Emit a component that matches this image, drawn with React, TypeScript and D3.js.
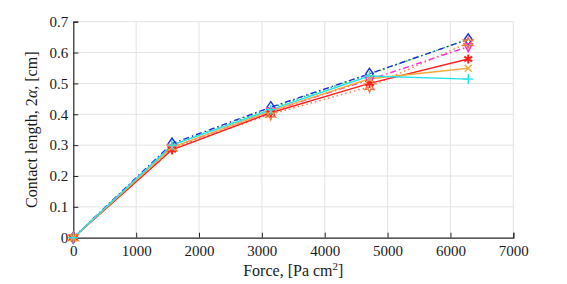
import React, { useRef, useEffect } from 'react';
import * as d3 from 'd3';

// force values (Pa cm^2), 500*pi steps
const forces = [0, 1570.8, 3141.6, 4712.4, 6283.2];

const greenDotted = [0, 0.3, 0.42, 0.53, 0.643];
const blueDiamond = [0, 0.305, 0.423, 0.531, 0.643];
const magentaTri = [0, 0.292, 0.41, 0.512, 0.619];
const orangeHex = [0, 0.29, 0.4, 0.489, 0.632];
const redStar = [0, 0.285, 0.405, 0.5, 0.579];
const yellowX = [0, 0.293, 0.41, 0.515, 0.549];
const cyanPlus = [0, 0.3, 0.415, 0.524, 0.514];

const xTicks = [0, 1000, 2000, 3000, 4000, 5000, 6000, 7000];
const yTicks = [0, 0.1, 0.2, 0.3, 0.4, 0.5, 0.6, 0.7];

const series = [
  { values: greenDotted, color: '#22c33a', dash: '1.5,2.5', marker: 'none' },
  { values: blueDiamond, color: '#1f2fe0', dash: '6,3,1.5,3', marker: 'diamond' },
  { values: magentaTri, color: '#ff2bd6', dash: '6,3,1.5,3', marker: 'triangleDown' },
  { values: orangeHex, color: '#f07a45', dash: '1.5,3', marker: 'hexagram' },
  { values: redStar, color: '#ff1f1f', dash: null, marker: 'asterisk' },
  { values: yellowX, color: '#f5a93a', dash: null, marker: 'x' },
  { values: cyanPlus, color: '#22e3ea', dash: null, marker: 'plus' },
];

const App = () => {
  const ref = useRef<SVGSVGElement>(null);

  useEffect(() => {
    const width = 567;
    const height = 284;
    const svg = d3.select(ref.current);
    svg.selectAll('*').remove();
    svg.attr('width', width).attr('height', height);

    const x = d3.scaleLinear().domain([0, 7000]).range([73.3, 513.3]);
    const y = d3.scaleLinear().domain([0, 0.7]).range([237.7, 21.7]);
    const font = '"Liberation Serif", "Times New Roman", serif';

    svg.append('rect').attr('width', width).attr('height', height).attr('fill', '#fff');

    // grid
    const grid = svg.append('g').attr('stroke', '#e3e3e3').attr('stroke-width', 1);
    grid.selectAll('line.v')
      .data(xTicks.slice(1))
      .join('line')
      .attr('x1', d => x(d)).attr('x2', d => x(d))
      .attr('y1', y(0)).attr('y2', y(0.7));
    grid.selectAll('line.h')
      .data(yTicks.slice(1))
      .join('line')
      .attr('class', 'h')
      .attr('x1', x(0)).attr('x2', x(7000))
      .attr('y1', d => y(d)).attr('y2', d => y(d));

    // axes
    const xAxis = d3.axisBottom(x).tickValues(xTicks).tickSize(-5).tickPadding(8)
      .tickFormat(d3.format('d'));
    const yAxis = d3.axisLeft(y).tickValues(yTicks).tickSize(-5).tickPadding(5)
      .tickFormat(d => (d === 0 ? '0' : d3.format('.1f')(d as number)));

    const gx = svg.append('g').attr('transform', `translate(0,${y(0)})`).call(xAxis);
    const gy = svg.append('g').attr('transform', `translate(${x(0)},0)`).call(yAxis);
    [gx, gy].forEach(g => {
      g.select('.domain').attr('stroke', '#262626').attr('stroke-width', 1.2);
      g.selectAll('.tick line').attr('stroke', '#262626');
      g.selectAll('.tick text')
        .attr('fill', '#1a1a1a')
        .attr('font-family', font)
        .attr('font-size', 15);
    });

    // lines
    const lineGen = d3.line<number>()
      .x((d, i) => x(forces[i]))
      .y(d => y(d));

    const markerPath = (type: string) => {
      switch (type) {
        case 'diamond':
          return 'M0,-5.5L3.8,0L0,5.5L-3.8,0Z';
        case 'triangleDown':
          return 'M-4.2,-3L4.2,-3L0,5Z';
        case 'hexagram': {
          const pts = d3.range(12).map(i => {
            const r = i % 2 === 0 ? 5.5 : 2.6;
            const a = (i * Math.PI) / 6 - Math.PI / 2;
            return [r * Math.cos(a), r * Math.sin(a)];
          });
          return 'M' + pts.map(p => p.join(',')).join('L') + 'Z';
        }
        case 'asterisk':
          return 'M0,-4.5V4.5M-4,-2.3L4,2.3M-4,2.3L4,-2.3';
        case 'x':
          return 'M-3.5,-3.5L3.5,3.5M-3.5,3.5L3.5,-3.5';
        case 'plus':
          return 'M-5,0H5M0,-5V5';
        default:
          return '';
      }
    };

    const plot = svg.append('g');
    series.forEach(s => {
      plot.append('path')
        .attr('d', lineGen(s.values))
        .attr('fill', 'none')
        .attr('stroke', s.color)
        .attr('stroke-width', 1.4)
        .attr('stroke-dasharray', s.dash);
    });

    series.forEach(s => {
      if (s.marker === 'none') return;
      plot.append('g')
        .selectAll('path')
        .data(s.values)
        .join('path')
        .attr('transform', (d, i) => `translate(${x(forces[i])},${y(d)})`)
        .attr('d', markerPath(s.marker))
        .attr('fill', 'none')
        .attr('stroke', s.color)
        .attr('stroke-width', s.marker === 'asterisk' ? 2 : 1.4);
    });

    // labels
    svg.append('text')
      .attr('x', (x(0) + x(7000)) / 2)
      .attr('y', 276)
      .attr('text-anchor', 'middle')
      .attr('font-family', font)
      .attr('font-size', 16)
      .attr('fill', '#1a1a1a')
      .html('Force, [Pa cm<tspan dy="-6" font-size="11">2</tspan><tspan dy="6">]</tspan>');

    svg.append('text')
      .attr('transform', `translate(37,${(y(0) + y(0.7)) / 2}) rotate(-90)`)
      .attr('text-anchor', 'middle')
      .attr('font-family', font)
      .attr('font-size', 16)
      .attr('fill', '#1a1a1a')
      .html('Contact length, 2<tspan font-style="italic">α</tspan>, [cm]');
  }, []);

  return <svg ref={ref} style={{ position: 'absolute', left: 0, top: 0 }} />;
};

export default App;
